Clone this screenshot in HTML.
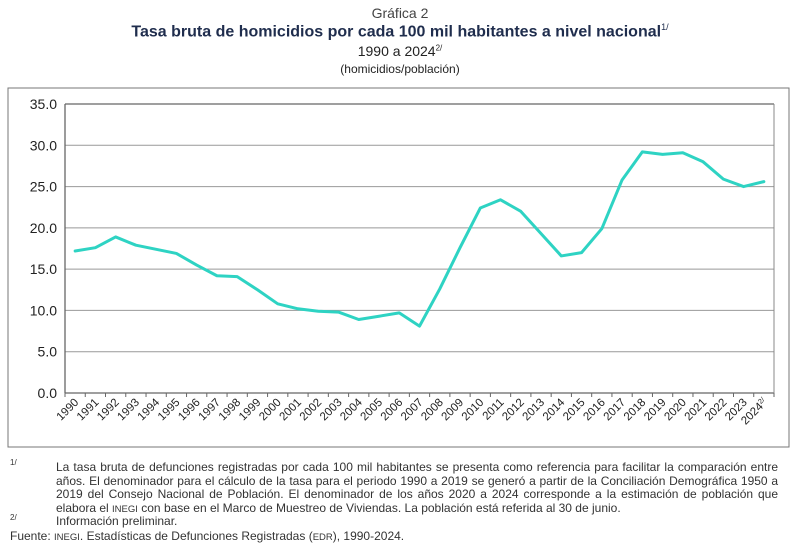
<!DOCTYPE html>
<html><head><meta charset="utf-8"><style>
body{margin:0;width:800px;height:548px;background:#fff;font-family:"Liberation Sans",Arial,sans-serif;color:#222;position:relative;overflow:hidden}
.t{position:absolute;left:0;width:800px;text-align:center}
.fn{position:absolute;font-size:12px;color:#333;line-height:13.5px}
</style></head><body>
<div class="t" style="top:5px;font-size:14px;color:#444">Gráfica 2</div>
<div class="t" style="top:22px;font-size:16px;font-weight:bold;color:#1f2d4d">Tasa bruta de homicidios por cada 100 mil habitantes a nivel nacional<sup style="font-size:9px;font-weight:normal">1/</sup></div>
<div class="t" style="top:43px;font-size:14px">1990 a 2024<sup style="font-size:8px">2/</sup></div>
<div class="t" style="top:62px;font-size:12px">(homicidios/población)</div>
<svg id="c" width="800" height="548" style="position:absolute;left:0;top:0"></svg>
<div class="fn" style="left:10px;top:456px;font-size:8px">1/</div>
<div class="fn" style="left:56px;top:461px;width:722px;text-align:justify">La tasa bruta de defunciones registradas por cada 100 mil habitantes se presenta como referencia para facilitar la comparación entre años. El denominador para el cálculo de la tasa para el periodo 1990 a 2019 se generó a partir de la Conciliación Demográfica 1950 a 2019 del Consejo Nacional de Población. El denominador de los años 2020 a 2024 corresponde a la estimación de población que elabora el <span style="font-size:9.5px">INEGI</span> con base en el Marco de Muestreo de Viviendas. La población está referida al 30 de junio.</div>
<div class="fn" style="left:10px;top:511px;font-size:8px">2/</div>
<div class="fn" style="left:56px;top:515px">Información preliminar.</div>
<div class="fn" style="left:10px;top:530px">Fuente: <span style="font-size:9.5px">INEGI</span>. Estadísticas de Defunciones Registradas (<span style="font-size:9.5px">EDR</span>), 1990-2024.</div>
<script>
const years=[1990,1991,1992,1993,1994,1995,1996,1997,1998,1999,2000,2001,2002,2003,2004,2005,2006,2007,2008,2009,2010,2011,2012,2013,2014,2015,2016,2017,2018,2019,2020,2021,2022,2023,2024];
const rates=[17.2,17.6,18.9,17.9,17.4,16.9,15.5,14.2,14.1,12.5,10.8,10.2,9.9,9.8,8.9,9.3,9.7,8.1,12.6,17.6,22.4,23.4,22.0,19.3,16.6,17.0,19.9,25.8,29.2,28.9,29.1,28.0,25.9,25.0,25.6];
const yTicks=[0,5,10,15,20,25,30,35];
const NS='http://www.w3.org/2000/svg';
const svg=document.getElementById('c');
const L=65,R=774,T=104,B=393,yMax=35;
const step=(R-L)/years.length;
const x=i=>L+step*(i+0.5);
const y=v=>B-(v/yMax)*(B-T);
function mk(tag,attrs){const e=document.createElementNS(NS,tag);for(const k in attrs)e.setAttribute(k,attrs[k]);svg.appendChild(e);return e;}
const frame=mk('rect',{x:8,y:88,width:781,height:359,fill:'none',stroke:'#777','stroke-width':1});


yTicks.forEach(v=>{
  const g=mk('line',{x1:L,x2:R,y1:y(v),y2:y(v),stroke:v===0||v===35?'#666':'#999','stroke-width':v===0||v===35?1.3:1});
  
  
  const t=mk('text',{x:L-8,y:y(v)+5,'text-anchor':'end','font-size':14,fill:'#222','font-family':'Liberation Sans, sans-serif'});
  t.textContent=v.toFixed(1);
  
  
});
const ax=mk('line',{x1:L,x2:L,y1:T,y2:B,stroke:'#666','stroke-width':1.3});


const ax2=mk('line',{x1:R,x2:R,y1:T,y2:B,stroke:'#888','stroke-width':1});


for(let i=0;i<=years.length;i++){
  const tk=mk('line',{x1:L+step*i,x2:L+step*i,y1:B,y2:B+4,stroke:'#666'});
  
  
}
years.forEach((yr,i)=>{
  const cx=x(i)+4,cy=B+10;
  const t=mk('text',{x:cx,y:cy,'text-anchor':'end','font-size':11.5,fill:'#222','font-family':'Liberation Sans, sans-serif',transform:`rotate(-45 ${cx} ${cy})`});
  t.textContent=yr;
  if(yr===2024){const s=document.createElementNS(NS,'tspan');s.setAttribute('font-size',7);s.setAttribute('dy',-4);s.textContent='2/';t.appendChild(s);}
  
  
});
const line=mk('polyline',{points:rates.map((v,i)=>x(i)+','+y(v)).join(' '),fill:'none',stroke:'#2ed3c3','stroke-width':3,'stroke-linejoin':'round','stroke-linecap':'round'});


</script>
</body></html>
